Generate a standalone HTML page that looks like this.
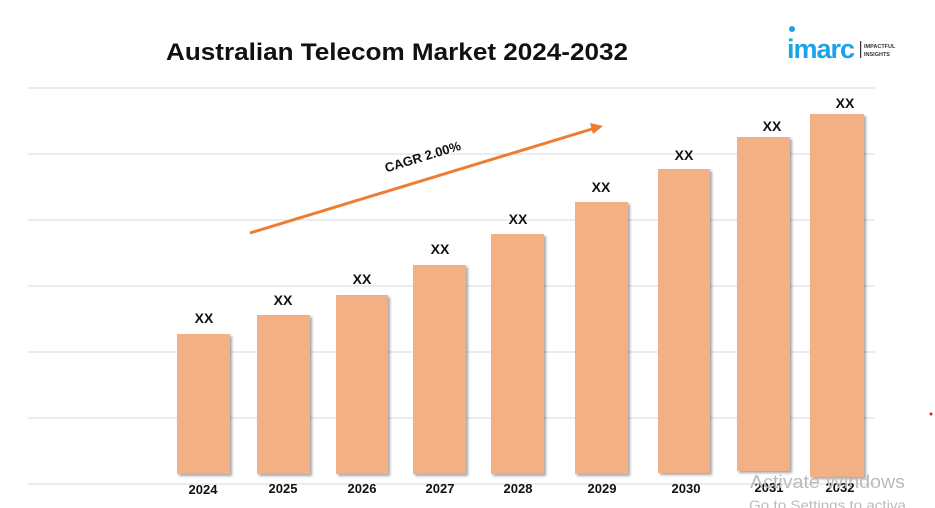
<!DOCTYPE html>
<html><head><style>
body{margin:0;background:#fff;}
svg{display:block;font-family:"Liberation Sans",Arial,sans-serif;}
</style></head><body>
<svg width="935" height="508" viewBox="0 0 935 508">
<defs><filter id="sh" x="-10%" y="-10%" width="130%" height="130%"><feDropShadow dx="2" dy="2" stdDeviation="1.2" flood-color="#000" flood-opacity="0.35"/></filter></defs>
<rect width="935" height="508" fill="#fff"/>
<text x="166" y="60" font-size="24" font-weight="bold" fill="#111" textLength="462" lengthAdjust="spacingAndGlyphs">Australian Telecom Market 2024-2032</text>
<g fill="#1aa3e8"><circle cx="792" cy="29" r="3"/></g>
<text x="787" y="58" font-size="27" fill="#1aa3e8" font-weight="bold" letter-spacing="-1">imarc</text>
<rect x="860" y="41" width="1.2" height="17" fill="#333"/>
<text x="864" y="48" font-size="5.5" fill="#333" font-weight="bold">IMPACTFUL</text>
<text x="864" y="56" font-size="5.5" fill="#333" font-weight="bold">INSIGHTS</text>
<g stroke="#d9d9d9" stroke-width="1">
<line x1="28" y1="88" x2="875" y2="88"/><line x1="28" y1="154" x2="875" y2="154"/><line x1="28" y1="220" x2="875" y2="220"/><line x1="28" y1="286" x2="875" y2="286"/><line x1="28" y1="352" x2="875" y2="352"/><line x1="28" y1="418" x2="875" y2="418"/><line x1="28" y1="484" x2="875" y2="484"/>
</g>
<g fill="#f3b084" filter="url(#sh)">
<rect x="177" y="334" width="53" height="140"/>
<rect x="257" y="315" width="53" height="159"/>
<rect x="336" y="295" width="52" height="179"/>
<rect x="413" y="265" width="53" height="209"/>
<rect x="491" y="234" width="53" height="240"/>
<rect x="575" y="202" width="53" height="272"/>
<rect x="658" y="169" width="52" height="304"/>
<rect x="737" y="137" width="53" height="334"/>
<rect x="810" y="114" width="54" height="363"/>
</g>
<g font-size="14" font-weight="bold" fill="#111" text-anchor="middle">
<text x="204" y="323">XX</text><text x="283" y="305">XX</text><text x="362" y="284">XX</text><text x="440" y="254">XX</text><text x="518" y="224">XX</text><text x="601" y="192">XX</text><text x="684" y="160">XX</text><text x="772" y="131">XX</text><text x="845" y="108">XX</text>
</g>
<g font-size="13" font-weight="bold" fill="#111" text-anchor="middle">
<text x="203" y="494">2024</text><text x="283" y="493">2025</text><text x="362" y="493">2026</text><text x="440" y="493">2027</text><text x="518" y="493">2028</text><text x="602" y="493">2029</text><text x="686" y="493">2030</text><text x="769" y="492">2031</text><text x="840" y="492">2032</text>
</g>
<line x1="250" y1="233" x2="592" y2="129" stroke="#ed7d31" stroke-width="3"/>
<polygon points="603,126 590,123 593,134" fill="#ed7d31"/>
<text x="424" y="161" font-size="13" font-weight="bold" fill="#111" text-anchor="middle" transform="rotate(-17 424 161)">CAGR 2.00%</text>
<circle cx="931" cy="414" r="1.5" fill="#e02020"/>
<text x="750" y="488" font-size="18" fill="#bbb" textLength="155" lengthAdjust="spacingAndGlyphs">Activate Windows</text>
<text x="749" y="510" font-size="14" fill="#bbb" textLength="157" lengthAdjust="spacingAndGlyphs">Go to Settings to activa</text>
</svg>
</body></html>
